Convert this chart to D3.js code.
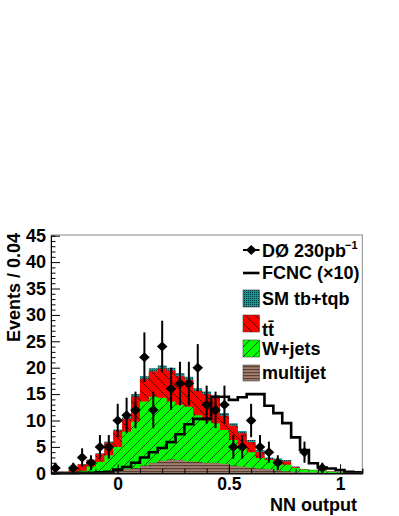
<!DOCTYPE html>
<html><head><meta charset="utf-8">
<script src="https://cdn.jsdelivr.net/npm/d3@7"></script>
<style>
html,body{margin:0;padding:0;background:#fff;}
text{font-family:"Liberation Sans",Arial,Helvetica,sans-serif;font-weight:bold;}
</style></head>
<body><svg id="c" width="399" height="516"></svg>
<script>
// ---- data (35 bins of width 0.04 from -0.3 to 1.1) ----
const xMin = -0.3, xMax = 1.1, binWidth = 0.04;
const multijet = [0.1,0.1,0.1,0.1,0.1,0.2,0.4,0.6,0.8,1.0,1.5,2.0,2.4,2.6,2.5,2.3,2.2,2.0,2.0,1.8,1.5,1.3,1.1,0.9,0.8,0.6,0.4,0.3,0.2,0.15,0.1,0.05,0.05,0.05,0.05];
const wjets    = [0.1,0.1,0.2,0.4,1.2,2.0,3.0,4.4,7.1,8.8,12.1,12.5,11.9,11.0,10.5,10.3,8.8,8.0,7.5,6.4,4.8,3.4,2.9,2.0,1.7,1.4,1.2,0.7,0.5,0.45,0.4,0.25,0.15,0.05,0.05];
const ttbar    = [0.08,0.08,0.45,1.15,1.2,1.5,2.4,3.0,2.4,4.7,4.2,4.8,5.5,5.8,5.4,5.1,4.6,5.0,4.8,2.7,2.7,2.9,1.9,1.15,0.2,0.5,0.65,0.15,0.05,0.03,0.03,0.02,0.02,0.02,0.02];
const smTop    = [0.02,0.02,0.05,0.05,0.1,0.1,0.2,0.3,0.3,0.5,0.6,0.6,0.6,0.6,0.6,0.6,0.5,0.5,0.5,0.5,0.5,0.4,0.4,0.35,0.3,0.3,0.25,0.15,0.05,0.05,0.05,0.02,0.02,0.01,0.01];
const fcnc     = [0.05,0.05,0.05,0.1,0.1,0.2,0.3,0.7,1.2,2.0,3.0,4.0,4.8,5.9,7.4,9.3,10.3,10.3,14.5,14.5,13.9,14.4,15.0,15.0,12.8,11.4,9.5,6.8,4.4,1.9,1.1,0.9,0.6,0.3,0.2];
const dataCounts = [1,0,1,3,2,5,5,10,11,12,22,12,24,16,17,17,20,13,12,13,5,5,10,5,4,2,0,0,4,0,1,0,0,0,0];
const yTickLabels = [0,5,10,15,20,25,30,35,40,45];
const xTickLabels = [0,0.5,1];
const legendLabels = ["DØ 230pb","FCNC (×10)","SM tb+tqb","tt̄","W+jets","multijet"];

// ---- layout ----
const svg = d3.select("#c");
const x = d3.scaleLinear().domain([xMin, xMax]).range([51, 362.3]);
const y = d3.scaleLinear().domain([0, 45]).range([473.3, 235.7]);
const yTop = 235, yBot = y(0);
const nb = multijet.length;
const edges = d3.range(nb + 1).map(i => xMin + i * binWidth);

// patterns
const defs = svg.append("defs");
function pat(id, size, bg, draw){
  const p = defs.append("pattern").attr("id", id).attr("patternUnits","userSpaceOnUse")
    .attr("width", size).attr("height", size);
  p.append("rect").attr("width", size).attr("height", size).attr("fill", bg);
  draw(p, size);
}
pat("pGreen", 10, "#00ff00", (p,s)=>p.append("path")
  .attr("d",`M0,${s} L${s},0 M-2,2 L2,-2 M${s-2},${s+2} L${s+2},${s-2}`)
  .attr("stroke","#000").attr("stroke-width",0.7));
pat("pRed", 10, "#ff0000", (p,s)=>p.append("path")
  .attr("d",`M0,0 L${s},${s} M-2,${s-2} L2,${s+2} M${s-2},-2 L${s+2},2`)
  .attr("stroke","#000").attr("stroke-width",0.7));
pat("pBrown", 3, "#a2806f", (p,s)=>p.append("rect").attr("y",0).attr("width",s).attr("height",1.2).attr("fill","#5a3f35"));
pat("pTeal", 2, "#1a9494", (p,s)=>p.append("rect").attr("width",1).attr("height",1).attr("fill","#003c3c"));

// cumulative stacks
const cumMJ = multijet.slice();
const cumW  = cumMJ.map((v,i)=>v + wjets[i]);
const cumTT = cumW.map((v,i)=>v + ttbar[i]);
const cumSM = cumTT.map((v,i)=>v + smTop[i]);

function stepPts(vals){
  const pts = vals.map((v,i)=>[edges[i], v]);
  pts.push([edges[nb], vals[nb-1]]);
  return pts;
}
const area = d3.area().curve(d3.curveStepAfter)
  .x(d=>x(d[0])).y0(yBot).y1(d=>y(d[1]));
const line = d3.line().curve(d3.curveStepAfter)
  .x(d=>x(d[0])).y(d=>y(d[1]));

const plot = svg.append("g");
[[cumSM,"url(#pTeal)"],[cumTT,"url(#pRed)"],[cumW,"url(#pGreen)"],[cumMJ,"url(#pBrown)"]]
  .forEach(([vals, fill])=>{
    plot.append("path").attr("d", area(stepPts(vals))).attr("fill", fill).attr("stroke","none");
  });

// FCNC line
plot.append("path").attr("d", line(stepPts(fcnc)))
  .attr("fill","none").attr("stroke","#000").attr("stroke-width",2.6);

// data points
const centers = d3.range(nb).map(i => xMin + (i + 0.5) * binWidth);
const pts = dataCounts.map((v,i)=>({x:centers[i], v})).filter(d=>d.v>0);
plot.selectAll("line.err").data(pts).enter().append("line")
  .attr("x1",d=>x(d.x)).attr("x2",d=>x(d.x))
  .attr("y1",d=>y(Math.max(0,d.v-Math.sqrt(d.v)))).attr("y2",d=>y(d.v+Math.sqrt(d.v)))
  .attr("stroke","#000").attr("stroke-width",2);
const diamond = "M-5.3,0 L0,-5 L5.3,0 L0,5 Z";
plot.selectAll("path.mk").data(pts).enter().append("path")
  .attr("d", diamond).attr("transform",d=>`translate(${x(d.x)},${y(d.v)})`).attr("fill","#000");

// frame
svg.append("rect").attr("x",x(xMin)).attr("y",yTop).attr("width",x(xMax)-x(xMin)).attr("height",yBot-yTop)
  .attr("fill","none").attr("stroke","#888").attr("stroke-width",1);

// axes
const gy = svg.append("g").attr("transform",`translate(${x(xMin)},0)`);
gy.call(d3.axisLeft(y).tickValues(d3.range(0,46,1)).tickSize(-4.5).tickFormat(""));
gy.call(g=>g.selectAll(".tick").filter(d=>d%5===0).remove());
const gy2 = svg.append("g").attr("transform",`translate(${x(xMin)},0)`);
gy2.call(d3.axisLeft(y).tickValues(yTickLabels).tickSizeInner(-9).tickSizeOuter(0).tickPadding(5).tickFormat(d3.format("d")));
[gy,gy2].forEach(g=>{g.selectAll("path.domain").attr("stroke","#000").attr("stroke-width",1);
  g.selectAll("line").attr("stroke","#000");});
gy2.selectAll("text").attr("font-size",18).attr("fill","#000").attr("font-family",null);

const gx = svg.append("g").attr("transform",`translate(0,${yBot})`);
gx.call(d3.axisBottom(x).tickValues(d3.range(-3,12,1).map(d=>d/10)).tickSize(-4.5).tickFormat(""));
const gx2 = svg.append("g").attr("transform",`translate(0,${yBot})`);
gx2.call(d3.axisBottom(x).tickValues(xTickLabels).tickSizeInner(-9).tickSizeOuter(0).tickPadding(4).tickFormat(d=>String(d)));
[gx,gx2].forEach(g=>{g.selectAll("path.domain").attr("stroke","#000").attr("stroke-width",1);
  g.selectAll("line").attr("stroke","#000");});
gx2.selectAll("text").attr("font-size",17.5).attr("fill","#000").attr("font-family",null);

// axis titles
svg.append("text").attr("transform","translate(20,233) rotate(-90)").attr("text-anchor","end")
  .attr("font-size",18).text("Events / 0.04");
svg.append("text").attr("x",357).attr("y",510.5).attr("text-anchor","end")
  .attr("font-size",18).text("NN output");

// legend
const lg = svg.append("g");
const lx = 243, lw = 16.5, tx = 262;
// data
lg.append("line").attr("x1",lx).attr("x2",lx+lw).attr("y1",250).attr("y2",250).attr("stroke","#000").attr("stroke-width",2);
lg.append("path").attr("d",diamond).attr("transform",`translate(${lx+lw/2},250)`).attr("fill","#000");
const t1 = lg.append("text").attr("x",tx).attr("y",256.5).attr("font-size",18).text(legendLabels[0]);
t1.append("tspan").attr("dx",-1).attr("dy",-8).attr("font-size",11).text("−1");
// fcnc
lg.append("line").attr("x1",lx).attr("x2",lx+lw).attr("y1",273).attr("y2",273).attr("stroke","#000").attr("stroke-width",2.6);
lg.append("text").attr("x",tx).attr("y",279).attr("font-size",18).text(legendLabels[1]);
// boxes
const boxes = [
  {y:290, h:17, fill:"url(#pTeal)", label:legendLabels[2], ty:304.5},
  {y:315, h:17, fill:"url(#pRed)", label:legendLabels[3], ty:336},
  {y:340, h:17, fill:"url(#pGreen)", label:legendLabels[4], ty:355},
  {y:365, h:16, fill:"url(#pBrown)", label:legendLabels[5], ty:378.5}
];
boxes.forEach(b=>{
  lg.append("rect").attr("x",lx).attr("y",b.y).attr("width",lw).attr("height",b.h)
    .attr("fill",b.fill).attr("stroke","#444").attr("stroke-width",0.6);
  lg.append("text").attr("x",tx).attr("y",b.ty).attr("font-size",18).text(b.label);
});
</script></body></html>
